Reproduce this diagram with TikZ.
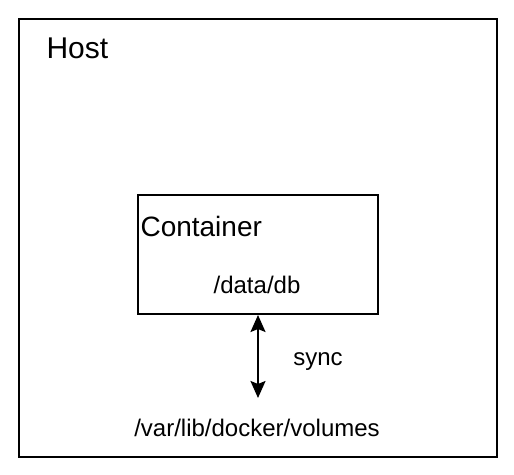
\documentclass[tikz,border=0pt]{standalone}
\usepackage{fontspec}
\setmainfont{Liberation Sans}
\usetikzlibrary{arrows.meta,positioning}

\begin{document}
\begin{tikzpicture}[x=1pt,y=-1pt,>={Stealth[length=17pt,width=15pt,inset=3pt]},
  box/.style={draw,line width=2pt,inner sep=0pt},
  big/.style={font=\fontsize{28}{30}\selectfont},
  small/.style={font=\fontsize{24}{26}\selectfont}]

\useasboundingbox (0,0) rectangle (514,474);

% 外框
\node[box,minimum width=478pt,minimum height=438pt] (host) at (258,238) {};
\node[font=\fontsize{30}{32}\selectfont,anchor=west] (hostlbl) at (43,48) {Host};

% container
\node[box,minimum width=240pt,minimum height=119pt] (container) at (258,254.5) {};
\node[big,anchor=west] (contlbl) at (137,226) {Container};
\node[small] (datadb) at (257,285) {/data/db};

% 同步
\node[small] (volumes) at (257,428) {/var/lib/docker/volumes};
\coordinate (volend) at (258,398);
\draw[<->,line width=2pt] (container.south) -- (volend);
\node[small] (synclbl) at (318,362) {sync};

\end{tikzpicture}
\end{document}
